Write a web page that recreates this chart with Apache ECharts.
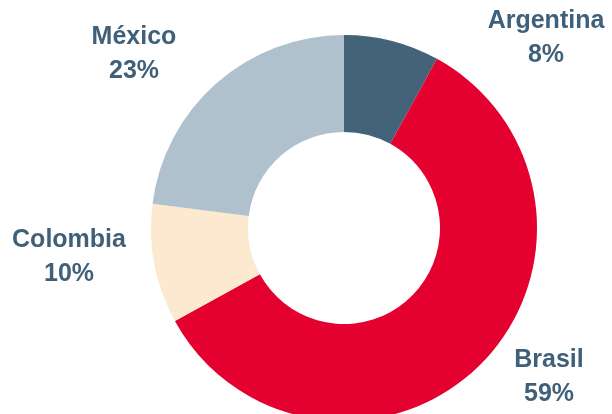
<!DOCTYPE html>
<html>
<head>
<meta charset="utf-8">
<script src="https://cdn.jsdelivr.net/npm/echarts@6/dist/echarts.min.js"></script>
<style>html,body{margin:0;padding:0;background:#fff}#c{width:612px;height:414px}</style>
</head>
<body>
<div id="c"></div>
<script>
const categories = ['Argentina', 'Brasil', 'Colombia', 'México'];
const values = [8, 59, 10, 23];
const colors = ['#436379', '#E4002F', '#FDE9CF', '#AFC1CD'];
const labelPos = [[546, 38], [549, 377], [69, 257], [134, 54]];

const chart = echarts.init(document.getElementById('c'));
chart.setOption({
  animation: false,
  series: [{
    type: 'pie',
    center: [344, 228],
    radius: [96, 193],
    startAngle: 90,
    clockwise: true,
    data: categories.map((n, i) => ({ name: n, value: values[i], itemStyle: { color: colors[i] } })),
    label: {
      show: true,
      position: 'outside',
      formatter: '{b}\n{c}%',
      fontFamily: 'Liberation Sans, Arial, sans-serif',
      fontWeight: 'bold',
      fontSize: 25,
      lineHeight: 34,
      color: '#3F6079',
      align: 'center',
      overflow: 'none',
      width: 200
    },
    labelLine: { show: false },
    labelLayout: function (p) {
      const pos = labelPos[p.dataIndex];
      return { x: pos[0], y: pos[1], align: 'center', verticalAlign: 'middle' };
    },
    emphasis: { disabled: true }
  }]
});
</script>
</body>
</html>
